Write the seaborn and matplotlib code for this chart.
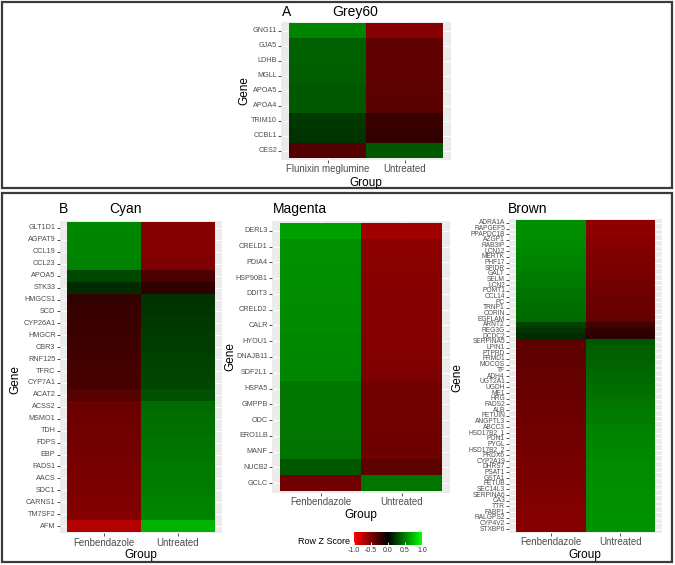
import numpy as np
import pandas as pd
import matplotlib
matplotlib.use("Agg")
import matplotlib as mpl
import matplotlib.pyplot as plt
import seaborn as sns
from matplotlib.colors import LinearSegmentedColormap, Normalize
from matplotlib.patches import Rectangle

# ---------------- data ----------------
grey_genes = ["GNG11", "GJA5", "LDHB", "MGLL", "APOA5", "APOA4", "TRIM10", "CCBL1", "CES2"]
grey_groups = ["Flunixin meglumine", "Untreated"]
grey_treat = [0.52, 0.37, 0.37, 0.36, 0.35, 0.35, 0.22, 0.20, -0.33]
grey_untr = [-0.52, -0.38, -0.37, -0.37, -0.36, -0.35, -0.22, -0.20, 0.35]

cyan_genes = ["GLT1D1", "AGPAT9", "CCL19", "CCL23", "APOA5", "STK33", "HMGCS1", "SCD",
              "CYP26A1", "HMGCR", "CBR3", "RNF125", "TFRC", "CYP7A1", "ACAT2", "ACSS2",
              "MSMO1", "TDH", "FDPS", "EBP", "FADS1", "AACS", "SDC1", "CARNS1", "TM7SF2", "AFM"]
cyan_treat = [0.53, 0.52, 0.52, 0.50, 0.28, 0.17, -0.20, -0.22, -0.23, -0.24, -0.25, -0.26,
              -0.27, -0.28, -0.34, -0.42, -0.43, -0.44, -0.45, -0.46, -0.47, -0.48, -0.49,
              -0.50, -0.51, -0.70]
cyan_untr = [-0.53, -0.52, -0.52, -0.50, -0.30, -0.18, 0.19, 0.21, 0.22, 0.23, 0.24, 0.25,
             0.26, 0.27, 0.32, 0.42, 0.43, 0.44, 0.45, 0.46, 0.47, 0.48, 0.49, 0.50, 0.51, 0.70]

magenta_genes = ["DERL3", "CRELD1", "PDIA4", "HSP90B1", "DDIT3", "CRELD2", "CALR", "HYOU1",
                 "DNAJB11", "SDF2L1", "HSPA5", "GMPPB", "ODC", "ERO1LB", "MANF", "NUCB2", "GCLC"]
magenta_treat = [0.62, 0.56, 0.56, 0.55, 0.55, 0.54, 0.54, 0.53, 0.53, 0.52, 0.46, 0.46,
                 0.46, 0.46, 0.45, 0.34, -0.44]
magenta_untr = [-0.62, -0.54, -0.54, -0.53, -0.53, -0.52, -0.52, -0.51, -0.51, -0.50, -0.44,
                -0.44, -0.44, -0.43, -0.43, -0.36, 0.46]

brown_genes = ["ADRA1A", "RAPGEF5", "PPAPDC1B", "AZGP1", "RAB3IP", "LCN12", "MERTK", "PHF17",
               "SPIDR", "GALT", "SELM", "LCN2", "POMT1", "CCL14", "PC", "TRNP1", "CORIN",
               "EGFLAM", "ARNT2", "REG3G", "DCDC2", "SERPINA5", "LPIN1", "PTPRD", "FRMD1",
               "MOCOS", "TF", "ADH4", "UGT2A1", "UGDH", "ME1", "HRG", "FADS2", "ALB", "FETUIN",
               "ANGPTL3", "ABCC3", "HSD17B2_1", "PON1", "PYGL", "HSD17B2_2", "PRDX6", "CYP2A19",
               "DHRS7", "PSAT1", "GSTA1", "FETUB", "SEC14L3", "SERPINA6", "CA3", "TTR", "FABP1",
               "RALGPS2", "CYP4V2", "STXBP6"]
brown_treat = [0.56, 0.55, 0.55, 0.54, 0.54, 0.53, 0.52, 0.51, 0.50, 0.49, 0.48, 0.47, 0.46,
               0.45, 0.44, 0.43, 0.42, 0.41, 0.25, 0.20, 0.16,
               -0.36, -0.37, -0.37, -0.38, -0.38, -0.39, -0.39, -0.40, -0.40, -0.41, -0.41,
               -0.42, -0.42, -0.43, -0.43, -0.44, -0.44, -0.45, -0.45, -0.46, -0.46, -0.47,
               -0.47, -0.48, -0.48, -0.49, -0.49, -0.50, -0.50, -0.51, -0.51, -0.52, -0.52, -0.53]
brown_untr = [-0.56, -0.55, -0.54, -0.53, -0.52, -0.51, -0.50, -0.49, -0.48, -0.47, -0.46,
              -0.45, -0.44, -0.43, -0.42, -0.41, -0.40, -0.39, -0.26, -0.20, -0.17,
              0.34, 0.36, 0.37, 0.38, 0.39, 0.40, 0.41, 0.42, 0.43, 0.44, 0.45, 0.46, 0.47,
              0.48, 0.49, 0.50, 0.51, 0.52, 0.52, 0.53, 0.53, 0.54, 0.54, 0.55, 0.55, 0.55,
              0.56, 0.56, 0.56, 0.57, 0.57, 0.57, 0.57, 0.58]
fb_groups = ["Fenbendazole", "Untreated"]

# ---------------- figure ----------------
W, H = 675, 565
fig = plt.figure(figsize=(W / 100, H / 100), dpi=100)
plt.rcParams['font.family'] = ['Liberation Sans', 'DejaVu Sans']

cmap = LinearSegmentedColormap.from_list("rbg", ["#FF0000", "#000000", "#00FF00"])


def px_axes(x0, y0, x1, y1):
    return fig.add_axes([x0 / W, 1 - y1 / H, (x1 - x0) / W, (y1 - y0) / H])


def ftext(x, y, s, **kw):
    fig.text(x / W, 1 - y / H, s, **kw)


def draw(tiles, genes, groups, va, vb, ytick_fs):
    tx0, tx1, ty0, ty1 = tiles
    n = len(genes)
    cw = (tx1 - tx0) / 2.0
    rh = (ty1 - ty0) / n
    ax = px_axes(tx0 - 0.1 * cw, ty0 - 0.1 * rh, tx1 + 0.1 * cw, ty1 + 0.1 * rh)
    df = pd.DataFrame({groups[0]: va, groups[1]: vb}, index=genes)
    sns.heatmap(df, ax=ax, cmap=cmap, vmin=-1, vmax=1, cbar=False,
                xticklabels=True, yticklabels=True)
    ax.set_facecolor('#EBEBEB')
    ax.set_xlim(-0.1, 2.1)
    ax.set_ylim(n + 0.1, -0.1)
    ax.set_axisbelow(True)
    ax.grid(True, color='white', lw=0.7)
    ax.set_xlabel('')
    ax.set_ylabel('')
    for s in ax.spines.values():
        s.set_visible(False)
    ax.tick_params(axis='y', labelsize=ytick_fs, length=2, width=0.6, color='#333333',
                   labelcolor='#4D4D4D', pad=1, labelrotation=0)
    ax.tick_params(axis='x', labelsize=7, length=2, width=0.6, color='#333333',
                   labelcolor='#4D4D4D', pad=1.5, labelrotation=0)
    return ax


# Panel A
draw((289, 443, 23, 158), grey_genes, grey_groups, grey_treat, grey_untr, 5.2)
ftext(287, 12, "A", fontsize=10, ha='center', va='center')
ftext(355, 12, "Grey60", fontsize=10, ha='center', va='center')
ftext(244, 91, "Gene", fontsize=8.5, rotation=90, ha='center', va='center')
ftext(366, 183, "Group", fontsize=8.5, ha='center', va='center')

# Panel B - Cyan
draw((67, 215, 222, 532), cyan_genes, fb_groups, cyan_treat, cyan_untr, 5.2)
ftext(64, 209, "B", fontsize=10, ha='center', va='center')
ftext(125, 209, "Cyan", fontsize=10, ha='center', va='center')
ftext(15, 380, "Gene", fontsize=8.5, rotation=90, ha='center', va='center')
ftext(141, 555, "Group", fontsize=8.5, ha='center', va='center')

# Magenta
draw((280, 442, 223, 491), magenta_genes, fb_groups, magenta_treat, magenta_untr, 5.2)
ftext(300, 209, "Magenta", fontsize=10, ha='center', va='center')
ftext(230, 357, "Gene", fontsize=8.5, rotation=90, ha='center', va='center')
ftext(361, 515, "Group", fontsize=8.5, ha='center', va='center')

# Brown
draw((516, 655, 220, 532), brown_genes, fb_groups, brown_treat, brown_untr, 4.8)
ftext(528, 209, "Brown", fontsize=10, ha='center', va='center')
ftext(457, 378, "Gene", fontsize=8.5, rotation=90, ha='center', va='center')
ftext(585, 555, "Group", fontsize=8.5, ha='center', va='center')

# Legend colour bar
cax = px_axes(354, 532, 422, 545)
cb = mpl.colorbar.ColorbarBase(cax, cmap=cmap, norm=Normalize(-1, 1), orientation='horizontal',
                               ticks=[-1, -0.5, 0, 0.5, 1])
cb.outline.set_visible(False)
cb.ax.set_xticklabels(["-1.0", "-0.5", "0.0", "0.5", "1.0"])
cax.tick_params(axis='x', labelsize=5, length=2.5, width=0.6, color='white',
                direction='in', labelcolor='#333333', pad=1.5)
ftext(350, 542, "Row Z Score", fontsize=6.5, ha='right', va='center')

# Panel borders
for (x0, y0, x1, y1) in [(2, 2, 672, 188), (2, 193, 672, 562)]:
    fig.patches.append(Rectangle((x0 / W, 1 - y1 / H), (x1 - x0) / W, (y1 - y0) / H,
                                 transform=fig.transFigure, fill=False,
                                 edgecolor='#3A3A3A', lw=1.6))

fig.savefig("out.png", dpi=100)
